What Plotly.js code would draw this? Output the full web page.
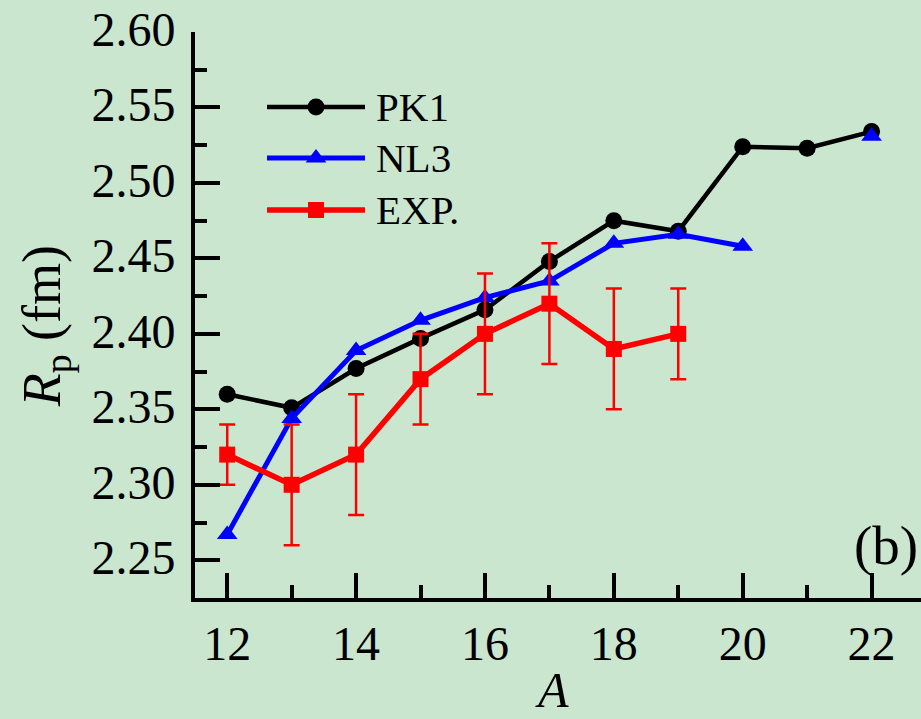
<!DOCTYPE html>
<html>
<head>
<meta charset="utf-8">
<script src="https://cdn.plot.ly/plotly-3.0.1.min.js"></script>
<style>
  html, body { margin: 0; padding: 0; overflow: hidden; background: #cbe6cf; }
  #chart { width: 941px; height: 719px; }
</style>
</head>
<body>
<div id="chart"></div>
<script>
// Proton radii R_p (fm) versus mass number A
const massNumbers = [12, 13, 14, 15, 16, 17, 18, 19, 20, 21, 22];
const rpPK1 = [2.360, 2.351, 2.377, 2.397, 2.416, 2.448, 2.475, 2.468, 2.524, 2.523, 2.534];
const rpNL3 = [2.267, 2.344, 2.389, 2.409, 2.424, 2.435, 2.460, 2.466, 2.458, null, 2.531];

const expMass = [12, 13, 14, 15, 16, 17, 18, 19];
const rpEXP = [2.32, 2.30, 2.32, 2.37, 2.40, 2.42, 2.39, 2.40];
const rpEXPErr = [0.02, 0.04, 0.04, 0.03, 0.04, 0.04, 0.04, 0.03];

const seriesNames = ['PK1', 'NL3', 'EXP.'];

const xTickVals = [12, 14, 16, 18, 20, 22];
const xTickText = ['12', '14', '16', '18', '20', '22'];
const yTickVals = [2.25, 2.30, 2.35, 2.40, 2.45, 2.50, 2.55, 2.60];
const yTickText = ['2.25', '2.30', '2.35', '2.40', '2.45', '2.50', '2.55', '2.60'];

const BG = '#cbe6cf';
const FONT = 'Liberation Serif, Times New Roman, serif';
const COLORS = ['#000000', '#0000ff', '#ff0000'];
const SYMBOLS = ['circle', 'triangle-up', 'square'];
const MSIZE = [17, 18, 16];
const LWIDTH = [4.5, 5, 5.5];

function markerStyle(i, size) {
  return {symbol: SYMBOLS[i], size: size, color: COLORS[i], opacity: 1, line: {width: 0}};
}

const traces = [
  {
    x: massNumbers, y: rpPK1, name: seriesNames[0], type: 'scatter', mode: 'lines+markers',
    line: {color: COLORS[0], width: LWIDTH[0]}, marker: markerStyle(0, MSIZE[0])
  },
  {
    x: massNumbers, y: rpNL3, name: seriesNames[1], type: 'scatter', mode: 'lines+markers',
    line: {color: COLORS[1], width: LWIDTH[1]}, marker: markerStyle(1, MSIZE[1])
  },
  {
    x: expMass, y: rpEXP, name: seriesNames[2], type: 'scatter', mode: 'lines+markers',
    line: {color: COLORS[2], width: LWIDTH[2]}, marker: markerStyle(2, MSIZE[2]),
    error_y: {type: 'data', array: rpEXPErr, visible: true, color: COLORS[2], thickness: 2.5, width: 8}
  }
];

// Legend samples drawn on a hidden unit overlay (0..1 across the plot area)
const legendX = [0.0972, 0.1633, 0.2294];
const legendY = [0.8675, 0.7774, 0.6855];
const legendTextX = 0.2416;
for (let i = 0; i < 3; i++) {
  traces.push({
    x: legendX, y: [legendY[i], legendY[i], legendY[i]],
    xaxis: 'x3', yaxis: 'y3', type: 'scatter', mode: 'lines+markers',
    showlegend: false, hoverinfo: 'skip',
    line: {color: COLORS[i], width: LWIDTH[i]},
    marker: markerStyle(i, [0, MSIZE[i], 0])
  });
}

const tickFont = {family: FONT, size: 48, color: '#000'};

const annotations = [];
for (let i = 0; i < 3; i++) {
  annotations.push({
    xref: 'paper', yref: 'paper', x: legendTextX, y: legendY[i],
    xanchor: 'left', yanchor: 'middle', showarrow: false,
    text: seriesNames[i], font: {family: FONT, size: 41, color: '#000'}
  });
}
annotations.push({
  xref: 'paper', yref: 'paper', x: -0.2024, y: 0.48,
  xanchor: 'center', yanchor: 'middle', showarrow: false, textangle: -90,
  text: '<i>R</i><sub>p</sub> (fm)', font: {family: FONT, size: 54, color: '#000'}
});
annotations.push({
  xref: 'paper', yref: 'paper', x: 0.482, y: -0.1625,
  xanchor: 'center', yanchor: 'middle', showarrow: false,
  text: '<i>A</i>', font: {family: FONT, size: 50, color: '#000'}
});
annotations.push({
  xref: 'paper', yref: 'paper', x: 0.9325, y: 0.092,
  xanchor: 'center', yanchor: 'middle', showarrow: false,
  text: '(b)', font: {family: FONT, size: 55, color: '#000'}
});

const layout = {
  width: 941, height: 719,
  margin: {l: 195, r: 5, t: 32, b: 121},
  paper_bgcolor: BG, plot_bgcolor: BG,
  font: {family: FONT, color: '#000'},
  showlegend: false,
  xaxis: {
    range: [11.5, 23], tickmode: 'array', tickvals: xTickVals, ticktext: xTickText,
    ticks: 'inside', ticklen: 25, tickwidth: 4, tickcolor: '#000',
    minor: {ticks: 'inside', ticklen: 13, tickwidth: 4, tickcolor: '#000', dtick: 1, tick0: 11},
    showline: true, linewidth: 4, linecolor: '#000', mirror: false,
    showgrid: false, zeroline: false, tickfont: tickFont, ticklabelstandoff: 0
  },
  xaxis2: {
    overlaying: 'x', side: 'top', anchor: 'y', range: [11.5, 23],
    tickmode: 'array', tickvals: xTickVals, showticklabels: false,
    ticks: 'inside', ticklen: 15, tickwidth: 4, tickcolor: '#000',
    minor: {ticks: 'inside', ticklen: 7, tickwidth: 4, tickcolor: '#000', dtick: 1, tick0: 11},
    showline: true, linewidth: 4, linecolor: '#000',
    showgrid: false, zeroline: false
  },
  yaxis: {
    range: [2.225, 2.60], tickmode: 'array', tickvals: yTickVals, ticktext: yTickText,
    ticks: 'inside', ticklen: 25, tickwidth: 4, tickcolor: '#000',
    minor: {ticks: 'inside', ticklen: 12, tickwidth: 4, tickcolor: '#000', dtick: 0.025, tick0: 2.225},
    showline: true, linewidth: 4, linecolor: '#000', mirror: false,
    showgrid: false, zeroline: false, tickfont: tickFont, ticklabelstandoff: 6, ticklabelshift: -3
  },
  xaxis3: {overlaying: 'x', anchor: 'y3', range: [0, 1], visible: false, fixedrange: true},
  yaxis3: {overlaying: 'y', anchor: 'x3', range: [0, 1], visible: false, fixedrange: true},
  annotations: annotations
};

Plotly.newPlot('chart', traces, layout, {displayModeBar: false, staticPlot: true});
</script>
</body>
</html>
